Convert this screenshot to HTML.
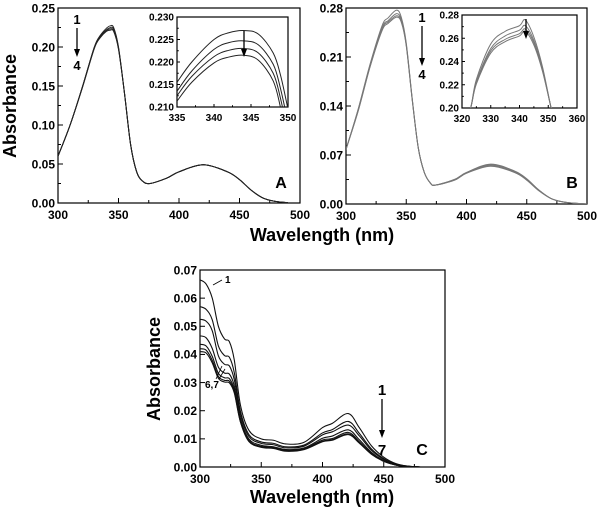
<!DOCTYPE html>
<html><head><meta charset="utf-8">
<style>
body{margin:0;background:#fff;}
svg{display:block;font-family:"Liberation Sans",Arial,sans-serif;font-weight:bold;}
</style></head>
<body>
<svg id="chart" width="600" height="511" viewBox="0 0 600 511"></svg>
<script>
// ---- Panel A data ----
const aWl=[300,310,320,330,335,340,343,346,350,355,360,365,370,376,390,400,420,440,450,460,470,480,490];
const aS1=[.060,.100,.148,.200,.215,.224,.227,.225,.200,.140,.075,.040,.028,.025,.032,.040,.049,.040,.030,.016,.006,.002,.0005];
const aS2=[.060,.100,.148,.199,.214,.222,.2247,.223,.199,.140,.075,.040,.028,.025,.032,.040,.049,.040,.030,.016,.006,.002,.0005];
const aS3=[.060,.100,.148,.199,.213,.221,.223,.221,.198,.140,.075,.040,.028,.025,.032,.040,.049,.040,.030,.016,.006,.002,.0005];
const aS4=[.060,.100,.147,.198,.212,.220,.2215,.220,.197,.140,.075,.040,.028,.025,.032,.040,.049,.040,.030,.016,.006,.002,.0005];
const aInWl=[335,337,340,342,344,346,348,349,350];
const aIn1=[.2155,.2200,.2250,.2265,.2270,.2262,.2220,.2170,.2095];
const aIn2=[.2135,.2180,.2228,.2243,.2247,.2238,.2195,.2140,.2065];
const aIn3=[.2125,.2168,.2212,.2226,.2230,.2220,.2175,.2118,.2040];
const aIn4=[.2113,.2155,.2198,.2211,.2215,.2204,.2158,.2098,.2020];
// ---- Panel B data ----
const bWl=[300,310,320,330,335,342,346,350,355,360,365,370,374,390,400,420,440,450,460,470,480,490,500];
const bS1=[.078,.135,.200,.255,.266,.277,.266,.230,.150,.080,.045,.030,.027,.035,.045,.057,.047,.036,.020,.008,.003,.001,0];
const bS2=[.078,.134,.198,.252,.262,.272,.263,.228,.149,.080,.045,.030,.027,.035,.045,.056,.046,.035,.020,.008,.003,.001,0];
const bS3=[.078,.133,.197,.250,.260,.269,.261,.227,.149,.080,.045,.030,.027,.034,.044,.055,.045,.035,.020,.008,.003,.001,0];
const bS4=[.078,.132,.196,.248,.258,.267,.259,.226,.148,.080,.045,.030,.027,.034,.044,.054,.045,.034,.019,.008,.003,.001,0];
const bInWl=[320,323,325,330,335,340,342,345,348,351,353];
const bIn1=[.180,.200,.225,.256,.267,.272,.277,.262,.236,.200,.180];
const bIn2=[.180,.200,.223,.252,.263,.268,.272,.259,.234,.200,.180];
const bIn3=[.180,.200,.222,.250,.260,.265,.269,.257,.233,.200,.180];
const bIn4=[.180,.200,.221,.248,.258,.263,.267,.255,.232,.200,.180];
// ---- Panel C data ----
const cWl=[300,305,310,315,320,324,328,333,340,350,360,370,385,400,408,421,430,440,450,460,470,480];
const cS1=[.0665,.065,.060,.050,.0455,.0445,.038,.022,.013,.0100,.0095,.0082,.0088,.0140,.0155,.0190,.0140,.0075,.0035,.0012,.0003,0];
const cS2=[.0570,.0560,.0523,.0430,.0396,.0390,.0335,.0198,.0115,.0089,.0084,.0072,.0078,.0121,.0133,.0162,.0120,.0064,.0030,.0010,.0003,0];
const cS3=[.0525,.0518,.0484,.0395,.0365,.0359,.0310,.0187,.0108,.0084,.0079,.0068,.0074,.0114,.0125,.0149,.0111,.0059,.0027,.0009,.0002,0];
const cS4=[.0466,.0459,.0421,.0355,.0334,.0330,.0288,.0173,.0099,.0077,.0072,.0062,.0068,.0102,.0110,.0132,.0097,.0052,.0023,.0008,.0002,0];
const cS5=[.0436,.0430,.0393,.0333,.0317,.0314,.0275,.0166,.0094,.0073,.0069,.0059,.0065,.0096,.0101,.0123,.0090,.0048,.0022,.0007,.0002,0];
const cS6=[.0420,.0415,.0379,.0322,.0308,.0305,.0268,.0162,.0092,.0071,.0067,.0057,.0063,.0092,.0097,.0118,.0087,.0046,.0021,.0007,.0002,0];
const cS7=[.0410,.0405,.0370,.0315,.0302,.0299,.0263,.0160,.0090,.0070,.0066,.0056,.0062,.0090,.0095,.0115,.0085,.0045,.0020,.0007,.0002,0];
const aYTicks=["0.00","0.05","0.10","0.15","0.20","0.25"];
const bYTicks=["0.00","0.07","0.14","0.21","0.28"];
const cYTicks=["0.00","0.01","0.02","0.03","0.04","0.05","0.06","0.07"];
const xTicks=["300","350","400","450","500"];
const aInX=["335","340","345","350"], aInY=["0.210","0.215","0.220","0.225","0.230"];
const bInX=["320","330","340","350","360"], bInY=["0.20","0.22","0.24","0.26","0.28"];

const svg=document.getElementById('chart');
const NS='http://www.w3.org/2000/svg';
function mk(tag,attrs,parent){const e=document.createElementNS(NS,tag);for(const k in attrs)e.setAttribute(k,attrs[k]);(parent||svg).appendChild(e);return e;}
function txt(s,x,y,size,anchor,parent){const t=mk('text',{x:x,y:y,'font-size':size,'text-anchor':anchor||'middle',fill:'#000'},parent);t.textContent=s;return t;}
function makeAxes(x0,x1,y0,y1,xmin,xmax,ymin,ymax){
  return {sx:v=>x0+(v-xmin)/(xmax-xmin)*(x1-x0), sy:v=>y1-(v-ymin)/(ymax-ymin)*(y1-y0)};
}
function pathD(wl,vals,ax){
  const pts=wl.map((w,i)=>[ax.sx(w),ax.sy(vals[i])]);
  let d='M'+pts[0][0].toFixed(2)+','+pts[0][1].toFixed(2);
  for(let i=0;i<pts.length-1;i++){
    const p0=pts[Math.max(0,i-1)],p1=pts[i],p2=pts[i+1],p3=pts[Math.min(pts.length-1,i+2)];
    const c1=[p1[0]+(p2[0]-p0[0])/6,p1[1]+(p2[1]-p0[1])/6],c2=[p2[0]-(p3[0]-p1[0])/6,p2[1]-(p3[1]-p1[1])/6];
    d+=' C'+c1.map(v=>v.toFixed(2))+' '+c2.map(v=>v.toFixed(2))+' '+p2.map(v=>v.toFixed(2));
  }
  return d;
}
function panel(name,box,xr,yr,yLabels,xLabels,xMinor,yMinor,fs,tickLen){
  const g=mk('g',{});
  
  
  const [x0,x1,y0,y1]=box;
  const ax=makeAxes(x0,x1,y0,y1,xr[0],xr[1],yr[0],yr[1]);
  const clipId=name+'-clip';
  const cp=mk('clipPath',{id:clipId},g);mk('rect',{x:x0,y:y0,width:x1-x0,height:y1-y0},cp);
  ax.clip='url(#'+clipId+')';
  const ny=yLabels.length-1;
  for(let i=0;i<=ny*yMinor;i++){
    const v=yr[0]+(yr[1]-yr[0])*i/(ny*yMinor);const y=ax.sy(v);
    const L=(i%yMinor===0)?tickLen:tickLen*0.6;
    mk('line',{x1:x0,x2:x0+L,y1:y,y2:y,stroke:'#000','stroke-width':1},g);
    if(i%yMinor===0){txt(yLabels[i/yMinor],x0-3,y+fs*0.36,fs,'end',g);}
  }
  const nx=xLabels.length-1;
  for(let i=0;i<=nx*xMinor;i++){
    const v=xr[0]+(xr[1]-xr[0])*i/(nx*xMinor);const x=ax.sx(v);
    const L=(i%xMinor===0)?tickLen:tickLen*0.6;
    mk('line',{x1:x,x2:x,y1:y1,y2:y1-L,stroke:'#000','stroke-width':1},g);
    if(i%xMinor===0){txt(xLabels[i/xMinor],x,y1+fs+4,fs,'middle',g);}
  }
  mk('rect',{x:x0,y:y0,width:x1-x0,height:y1-y0,fill:'none',stroke:'#000','stroke-width':1.2},g);
  ax.g=g;return ax;
}
function series(ax,wl,vals,color,name,w){
  const p=mk('path',{d:pathD(wl,vals,ax),fill:'none',stroke:color,'stroke-width':w||1,'clip-path':ax.clip},ax.g);
  
  
}
function arrow(x,ya,yb,parent){
  mk('line',{x1:x,x2:x,y1:ya,y2:yb-6,stroke:'#000','stroke-width':1.3},parent);
  mk('polygon',{points:`${x-3},${yb-8} ${x+3},${yb-8} ${x},${yb}`,fill:'#000'},parent);
}

const A=panel('panel-a',[58,300,8,203],[300,500],[0,0.25],aYTicks,xTicks,2,2,12,5);
[aS1,aS2,aS3,aS4].forEach((s,i)=>series(A,aWl,s,'#222','a-curve-'+(i+1)));
txt('1',77,24,13,'middle',A.g);arrow(77,28,57,A.g);txt('4',77,70,13,'middle',A.g);
txt('A',281,188,16,'middle',A.g);
mk('rect',{x:177,y:17,width:111,height:90,fill:'#fff'},A.g);
const AI=panel('inset-a',[177,288,17,107],[335,350],[0.210,0.230],aInY,aInX,2,2,10,3);
[aIn1,aIn2,aIn3,aIn4].forEach((s,i)=>series(AI,aInWl,s,'#222','a-inset-curve-'+(i+1)));
arrow(244,31,57,AI.g);

const B=panel('panel-b',[346,587,8,204],[300,500],[0,0.28],bYTicks,xTicks,2,2,12,5);
[bS1,bS2,bS3,bS4].forEach((s,i)=>series(B,bWl,s,'#777','b-curve-'+(i+1)));
txt('1',422,22,13,'middle',B.g);arrow(422,26,66,B.g);txt('4',422,79,13,'middle',B.g);
txt('B',572,188,16,'middle',B.g);
mk('rect',{x:462,y:15,width:115,height:93,fill:'#fff'},B.g);
const BI=panel('inset-b',[462,577,15,108],[320,360],[0.20,0.2813],bInY,bInX,2,2,10,3);
[bIn1,bIn2,bIn3,bIn4].forEach((s,i)=>series(BI,bInWl,s,'#777','b-inset-curve-'+(i+1)));
arrow(526,19,39,BI.g);

const C=panel('panel-c',[200,445,270,467],[300,500],[0,0.07],cYTicks,xTicks,2,1,12,5);
[cS1,cS2,cS3,cS4,cS5,cS6,cS7].forEach((s,i)=>series(C,cWl,s,'#111','c-curve-'+(i+1),1.1));
txt('1',225,283,10,'start',C.g);mk('line',{x1:213,y1:285,x2:222,y2:280,stroke:'#000','stroke-width':0.8},C.g);
txt('6,7',205,388,10,'start',C.g);
mk('line',{x1:216,y1:379,x2:222,y2:366,stroke:'#000','stroke-width':0.8},C.g);
mk('line',{x1:219,y1:379,x2:225,y2:369,stroke:'#000','stroke-width':0.8},C.g);
txt('1',382,395,15,'middle',C.g);arrow(382,399,438,C.g);txt('7',382,455,15,'middle',C.g);
txt('C',422,455,16,'middle',C.g);

function rotTitle(s,x,y,name){const t=txt(s,x,y,18,'middle');t.setAttribute('transform',`rotate(-90 ${x} ${y})`);}
rotTitle('Absorbance',16,106,'y-axis-title-a');
rotTitle('Absorbance',160,369,'y-axis-title-c');
const t1=txt('Wavelength (nm)',322,241,18,'middle');


const t2=txt('Wavelength (nm)',322,503,18,'middle');


</script>
</body></html>
